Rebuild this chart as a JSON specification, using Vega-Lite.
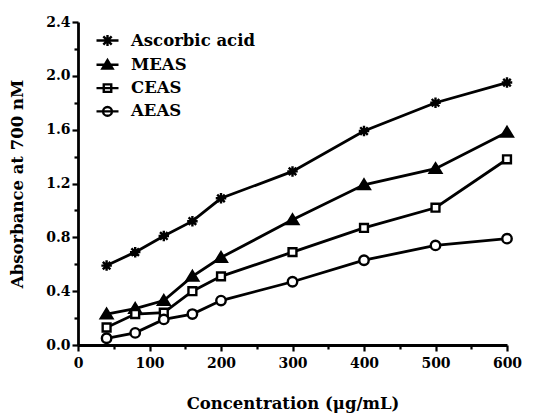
{
  "$schema": "https://vega.github.io/schema/vega-lite/v6.json",
  "width": 429,
  "height": 323,
  "autosize": {"type": "none"},
  "padding": {"left": 78, "top": 22, "right": 29, "bottom": 70},
  "background": "white",
  "config": {
    "view": {"stroke": null},
    "axis": {
      "domainColor": "black",
      "domainWidth": 2.8,
      "tickColor": "black",
      "tickWidth": 2.2,
      "labelFont": "DejaVu Serif",
      "labelFontWeight": "bold",
      "labelFontSize": 14,
      "labelColor": "black",
      "titleFont": "DejaVu Serif",
      "titleFontWeight": "bold",
      "titleFontSize": 16.5,
      "titleColor": "black",
      "grid": false
    },
    "legend": {
      "labelFont": "DejaVu Serif",
      "labelFontWeight": "bold",
      "labelFontSize": 16.5,
      "labelColor": "black"
    }
  },
  "data": {
    "values": [
      {"conc": 40, "series": "Ascorbic acid", "abs": 0.59},
      {"conc": 80, "series": "Ascorbic acid", "abs": 0.69},
      {"conc": 120, "series": "Ascorbic acid", "abs": 0.81},
      {"conc": 160, "series": "Ascorbic acid", "abs": 0.92},
      {"conc": 200, "series": "Ascorbic acid", "abs": 1.09},
      {"conc": 300, "series": "Ascorbic acid", "abs": 1.29},
      {"conc": 400, "series": "Ascorbic acid", "abs": 1.59},
      {"conc": 500, "series": "Ascorbic acid", "abs": 1.80},
      {"conc": 600, "series": "Ascorbic acid", "abs": 1.95},
      {"conc": 40, "series": "MEAS", "abs": 0.23},
      {"conc": 80, "series": "MEAS", "abs": 0.27},
      {"conc": 120, "series": "MEAS", "abs": 0.33},
      {"conc": 160, "series": "MEAS", "abs": 0.51},
      {"conc": 200, "series": "MEAS", "abs": 0.65},
      {"conc": 300, "series": "MEAS", "abs": 0.93},
      {"conc": 400, "series": "MEAS", "abs": 1.19},
      {"conc": 500, "series": "MEAS", "abs": 1.31},
      {"conc": 600, "series": "MEAS", "abs": 1.58},
      {"conc": 40, "series": "CEAS", "abs": 0.13},
      {"conc": 80, "series": "CEAS", "abs": 0.23},
      {"conc": 120, "series": "CEAS", "abs": 0.24},
      {"conc": 160, "series": "CEAS", "abs": 0.40},
      {"conc": 200, "series": "CEAS", "abs": 0.51},
      {"conc": 300, "series": "CEAS", "abs": 0.69},
      {"conc": 400, "series": "CEAS", "abs": 0.87},
      {"conc": 500, "series": "CEAS", "abs": 1.02},
      {"conc": 600, "series": "CEAS", "abs": 1.38},
      {"conc": 40, "series": "AEAS", "abs": 0.05},
      {"conc": 80, "series": "AEAS", "abs": 0.09},
      {"conc": 120, "series": "AEAS", "abs": 0.19},
      {"conc": 160, "series": "AEAS", "abs": 0.23},
      {"conc": 200, "series": "AEAS", "abs": 0.33},
      {"conc": 300, "series": "AEAS", "abs": 0.47},
      {"conc": 400, "series": "AEAS", "abs": 0.63},
      {"conc": 500, "series": "AEAS", "abs": 0.74},
      {"conc": 600, "series": "AEAS", "abs": 0.79}
    ]
  },
  "encoding": {
    "x": {
      "field": "conc",
      "type": "quantitative",
      "scale": {"domain": [0, 600], "nice": false},
      "axis": {
        "title": "Concentration (μg/mL)",
        "values": [0, 50, 100, 150, 200, 250, 300, 350, 400, 450, 500, 550, 600],
        "labelExpr": "datum.value % 100 == 0 ? datum.label : ''",
        "tickSize": {"condition": {"test": "datum.value % 100 == 0", "value": 6}, "value": 4},
        "labelPadding": 5,
        "titlePadding": 25,
        "labelFlush": false,
        "labelOverlap": false
      }
    },
    "y": {
      "field": "abs",
      "type": "quantitative",
      "scale": {"domain": [0, 2.4], "nice": false},
      "axis": {
        "title": "Absorbance at 700 nM",
        "values": [0, 0.2, 0.4, 0.6, 0.8, 1.0, 1.2, 1.4, 1.6, 1.8, 2.0, 2.2, 2.4],
        "format": ".1f",
        "labelExpr": "round(datum.value * 10) % 4 == 0 ? datum.label : ''",
        "tickSize": {"condition": {"test": "round(datum.value * 10) % 4 == 0", "value": 6}, "value": 4},
        "labelPadding": 2,
        "titlePadding": 20,
        "labelFlush": false,
        "labelOverlap": false
      }
    }
  },
  "resolve": {
    "scale": {"shape": "independent", "fill": "independent", "stroke": "independent"},
    "legend": {"shape": "independent", "fill": "independent", "stroke": "independent"}
  },
  "layer": [
    {
      "mark": {"type": "line", "stroke": "black", "strokeWidth": 2.8},
      "encoding": {"detail": {"field": "series"}}
    },
    {
      "mark": {"type": "point", "filled": false, "stroke": "black", "strokeWidth": 2.4, "size": 110, "opacity": 1},
      "encoding": {
        "shape": {
          "field": "series",
          "type": "nominal",
          "scale": {
            "domain": ["Ascorbic acid", "MEAS", "CEAS", "AEAS"],
            "range": [
              "M-1,0L1,0M0,-1L0,1M-0.72,-0.72L0.72,0.72M-0.72,0.72L0.72,-0.72",
              "M0,-1L1.1,0.8L-1.1,0.8Z",
              "M-0.75,-0.75L0.75,-0.75L0.75,0.75L-0.75,0.75Z",
              "M0.9,0A0.9,0.9 0 1,1 -0.9,0A0.9,0.9 0 1,1 0.9,0Z"
            ]
          },
          "legend": null
        },
        "fill": {
          "field": "series",
          "type": "nominal",
          "scale": {
            "domain": ["Ascorbic acid", "MEAS", "CEAS", "AEAS"],
            "range": ["white", "black", "white", "white"]
          },
          "legend": null
        }
      }
    },
    {
      "transform": [{"filter": "datum.conc < 0"}],
      "mark": {"type": "point", "filled": false, "strokeWidth": 2.4, "size": 110, "opacity": 1},
      "encoding": {
        "shape": {
          "field": "series",
          "type": "nominal",
          "scale": {
            "domain": ["Ascorbic acid", "MEAS", "CEAS", "AEAS"],
            "range": [
              "M-1,0L1,0M0,-0.5L0,0.5M-0.38,-0.38L0.38,0.38M-0.38,0.38L0.38,-0.38",
              "M-1,0L1,0M0,-0.42L0.46,0.34L-0.46,0.34Z",
              "M-1,0L1,0M-0.34,-0.34L0.34,-0.34L0.34,0.34L-0.34,0.34Z",
              "M-1,0L1,0M0.4,0A0.4,0.4 0 1,1 -0.4,0A0.4,0.4 0 1,1 0.4,0Z"
            ]
          },
          "legend": {
            "title": null, "orient": "none", "legendX": 17, "legendY": 6, "padding": 0,
            "symbolSize": 484, "rowPadding": 1.3, "labelOffset": 11, "symbolStrokeWidth": 2.4
          }
        },
        "fill": {
          "field": "series",
          "type": "nominal",
          "scale": {
            "domain": ["Ascorbic acid", "MEAS", "CEAS", "AEAS"],
            "range": ["white", "black", "white", "white"]
          },
          "legend": {
            "title": null, "orient": "none", "legendX": 17, "legendY": 6, "padding": 0,
            "symbolSize": 484, "rowPadding": 1.3, "labelOffset": 11, "symbolStrokeWidth": 2.4
          }
        },
        "stroke": {
          "field": "series",
          "type": "nominal",
          "scale": {
            "domain": ["Ascorbic acid", "MEAS", "CEAS", "AEAS"],
            "range": ["black", "black", "black", "black"]
          },
          "legend": {
            "title": null, "orient": "none", "legendX": 17, "legendY": 6, "padding": 0,
            "symbolSize": 484, "rowPadding": 1.3, "labelOffset": 11, "symbolStrokeWidth": 2.4
          }
        }
      }
    }
  ]
}
